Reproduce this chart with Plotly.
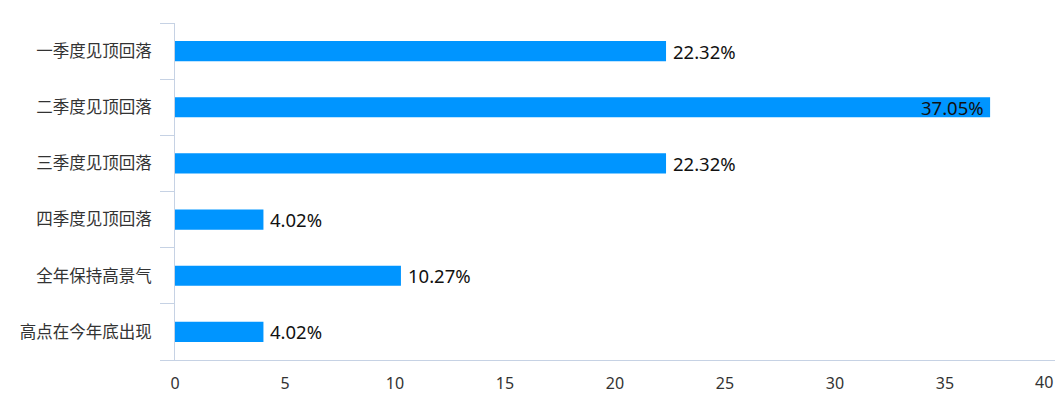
import plotly.graph_objects as go

categories = ["一季度见顶回落", "二季度见顶回落", "三季度见顶回落", "四季度见顶回落", "全年保持高景气", "高点在今年底出现"]
values = [22.32, 37.05, 22.32, 4.02, 10.27, 4.02]
labels = ["22.32%", "37.05%", "22.32%", "4.02%", "10.27%", "4.02%"]
label_inside = [False, True, False, False, False, False]
x_ticks = [0, 5, 10, 15, 20, 25, 30, 35, 40]

font_family = "Noto Sans, Noto Sans CJK SC, sans-serif"

fig = go.Figure(go.Bar(
    x=values,
    y=categories,
    orientation="h",
    marker=dict(color="#0095FF", line=dict(width=0)),
    width=0.36,
    hoverinfo="x+y",
))

for cat, val, lab, inside in zip(categories, values, labels, label_inside):
    fig.add_annotation(
        x=val, y=cat, xref="x", yref="y",
        text=lab, showarrow=False,
        xanchor="right" if inside else "left",
        yanchor="middle",
        xshift=-4 if inside else 5,
        font=dict(family=font_family, size=18.5, color="#111111"),
    )

# last x tick label is right-aligned to the axis end so it stays inside the canvas
fig.add_annotation(
    x=x_ticks[-1], y=0, xref="x", yref="paper",
    text=str(x_ticks[-1]), showarrow=False,
    xanchor="right", yanchor="middle", yshift=-22,
    font=dict(family=font_family, size=16, color="#333333"),
)

fig.update_layout(
    width=1062,
    height=395,
    margin=dict(l=175, r=7, t=23, b=35, autoexpand=False),
    paper_bgcolor="white",
    plot_bgcolor="white",
    showlegend=False,
    font=dict(family=font_family, color="#333333"),
)

fig.update_xaxes(
    range=[0, 40],
    tickvals=x_ticks[:-1],
    ticktext=[str(v) for v in x_ticks[:-1]],
    showgrid=False,
    zeroline=False,
    showline=True,
    linecolor="#c6d2e4",
    linewidth=1,
    ticks="",
    tickfont=dict(family=font_family, size=16, color="#333333"),
    ticklabelstandoff=9,
    automargin=False,
)

fig.update_yaxes(
    categoryorder="array",
    categoryarray=categories[::-1],
    autorange=False,
    range=[-0.5, 5.5],
    showgrid=False,
    zeroline=False,
    showline=True,
    linecolor="#c6d2e4",
    linewidth=1,
    ticks="outside",
    tickson="boundaries",
    ticklen=14,
    tickcolor="#c6d2e4",
    tickwidth=1,
    tickfont=dict(family=font_family, size=16.5, color="#333333"),
    ticklabelstandoff=19,
    automargin=False,
)

fig.write_html("out.html", config={"displayModeBar": False},
               post_script="document.body.style.margin='0';")
